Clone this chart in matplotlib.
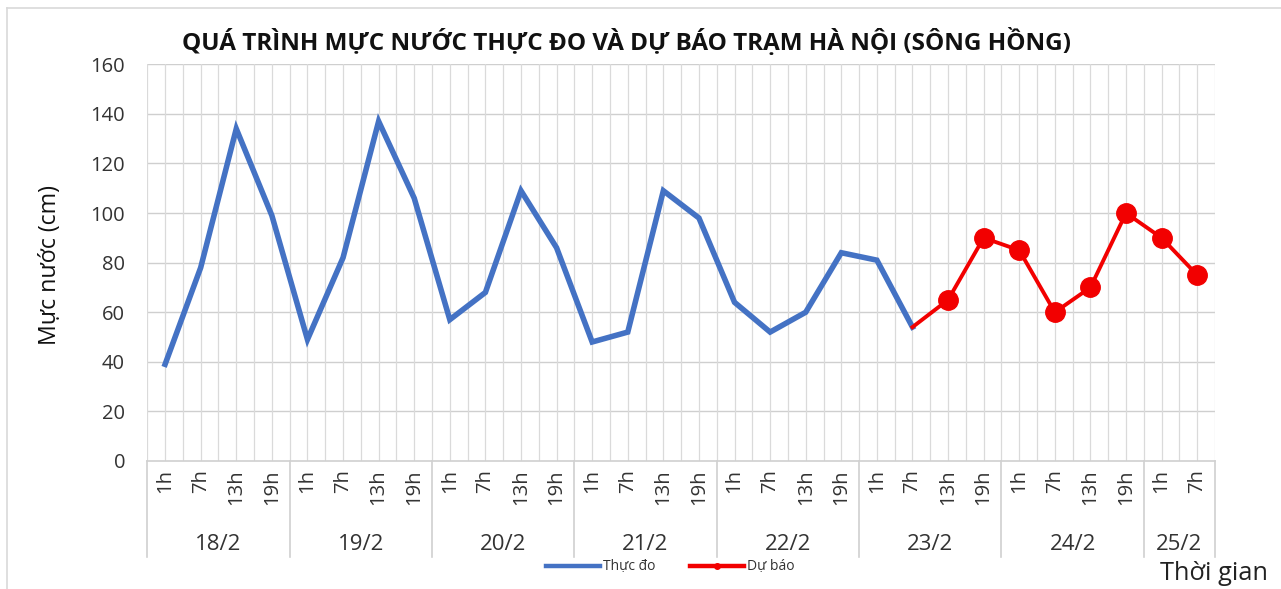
import matplotlib
matplotlib.use("Agg")
import matplotlib.pyplot as plt
from matplotlib.lines import Line2D
import matplotlib.transforms as mtransforms

plt.rcParams['font.family'] = ['Open Sans', 'DejaVu Sans']

# ---- data ----
dates = ["18/2", "19/2", "20/2", "21/2", "22/2", "23/2", "24/2", "25/2"]
hours_per_date = [["1h", "7h", "13h", "19h"]] * 7 + [["1h", "7h"]]
observed = [39, 78, 134, 99, 49, 82, 137, 106, 57, 68, 109, 86,
            48, 52, 109, 98, 64, 52, 60, 84, 81, 54]
forecast = [54, 65, 90, 85, 60, 70, 100, 90, 75]
forecast_start = 21
title = "QUÁ TRÌNH MỰC NƯỚC THỰC ĐO VÀ DỰ BÁO TRẠM HÀ NỘI (SÔNG HỒNG)"
ylabel = "Mực nước (cm)"
xlabel = "Thời gian"
legend_labels = ["Thực đo", "Dự báo"]
yticks = [0, 20, 40, 60, 80, 100, 120, 140, 160]

hour_labels = [h for hs in hours_per_date for h in hs]
n = len(hour_labels)

W, H = 1281, 589
fig = plt.figure(figsize=(W / 100, H / 100), dpi=100)
ax = fig.add_axes([147.3 / W, 1 - 461 / H, (1215 - 147.3) / W, (461 - 64.3) / H])

BLUE = "#4472C4"
RED = "#F20000"
TXT = "#333333"

ax.set_xlim(-0.5, n - 0.5)
ax.set_ylim(0, 160)
ax.set_yticks(yticks)
ax.set_yticklabels([str(v) for v in yticks], fontsize=14.5, color=TXT)
ax.tick_params(axis='y', length=0, pad=16)

ax.set_xticks(range(n))
ax.set_xticklabels(hour_labels, rotation=90, fontsize=14.5, color=TXT, va='top')
ax.tick_params(axis='x', length=0, pad=6)

for s in ["top", "right", "left"]:
    ax.spines[s].set_visible(False)
ax.spines["bottom"].set_color("#D0D0D0")
ax.spines["bottom"].set_linewidth(1.2)

# gridlines
for v in yticks[1:]:
    ax.axhline(v, color="#CFCFCF", lw=1.0, zorder=0)
for k in range(2 * n + 1):
    ax.axvline(-0.5 + k * 0.5, color="#DADADA", lw=0.9, zorder=0)

# series
xo = list(range(len(observed)))
ax.plot(xo, observed, color=BLUE, lw=4.0, solid_joinstyle='miter', zorder=3)
xf = list(range(forecast_start, forecast_start + len(forecast)))
ax.plot(xf, forecast, color=RED, lw=2.8, marker='o', markersize=14,
        markevery=list(range(1, len(forecast))), zorder=4)

# date group labels and separators
trans = mtransforms.blended_transform_factory(ax.transData, ax.transAxes)
axh = 461 - 64.3
sep_bottom = -(557 - 461) / axh
date_y = -(545 - 461) / axh
pos = 0
bounds = [-0.5]
for d, hs in zip(dates, hours_per_date):
    c = pos + (len(hs) - 1) / 2
    ax.text(c, date_y, d, transform=trans, ha='center', va='center',
            fontsize=16, color=TXT)
    pos += len(hs)
    bounds.append(pos - 0.5)
for b in bounds:
    ax.plot([b, b], [0, sep_bottom], transform=trans, color="#D0D0D0",
            lw=1.2, clip_on=False)

renderer = fig.canvas.get_renderer()


def fit(t, target_px, horizontal=True):
    bb = t.get_window_extent(renderer=renderer)
    size = bb.width if horizontal else bb.height
    t.set_fontsize(t.get_fontsize() * target_px / size)


tt = fig.text(626.5 / W, 1 - 42 / H, title, ha='center', va='center',
              fontsize=18, fontweight='bold', color="#111111")
fit(tt, 893)

yl = fig.text(50 / W, 1 - 265 / H, ylabel, rotation=90, ha='center',
              va='center', fontsize=16, color="#111111")
fit(yl, 160, horizontal=False)

xl = fig.text(1214 / W, 1 - 573 / H, xlabel, ha='center', va='center',
              fontsize=16, color="#222222")
fit(xl, 108)

handles = [Line2D([], [], color=BLUE, lw=3.2),
           Line2D([], [], color=RED, lw=3.2, marker='o', markersize=4)]
fig.legend(handles, legend_labels, loc='center', ncol=2,
           bbox_to_anchor=(670 / W, 1 - 567 / H), frameon=False,
           fontsize=10, handlelength=3.9, handletextpad=0.2,
           columnspacing=2.5, labelcolor=TXT)

# outer frame (left and top edges visible)
fig.add_artist(Line2D([7 / W, 7 / W], [0, 1 - 8 / H], color="#D9D9D9", lw=1.2,
                      transform=fig.transFigure))
fig.add_artist(Line2D([7 / W, 1], [1 - 8 / H, 1 - 8 / H], color="#D9D9D9",
                      lw=1.2, transform=fig.transFigure))

fig.savefig("out.png", dpi=100, facecolor="white")
